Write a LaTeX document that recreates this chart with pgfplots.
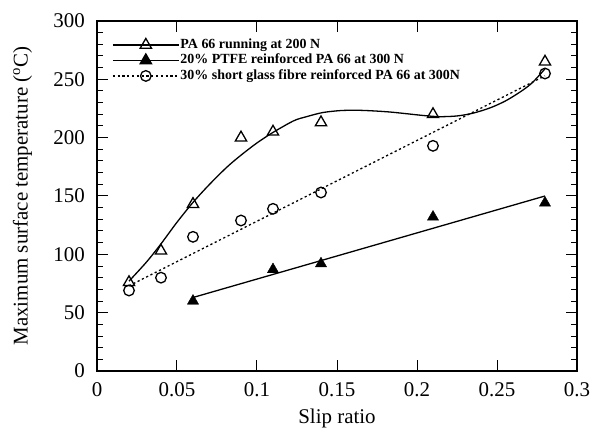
\documentclass[border=0pt]{standalone}
\usepackage{fontspec}
\setmainfont{Liberation Serif}
\usepackage{pgfplots}
\pgfplotsset{compat=1.18}
\begin{document}
\begin{tikzpicture}
\begin{axis}[
  scale only axis,
  width=480bp, height=350bp,
  xmin=0, xmax=0.3, ymin=0, ymax=300,
  xtick={0,0.05,0.1,0.15,0.2,0.25,0.3},
  xticklabels={0,0.05,0.1,0.15,0.2,0.25,0.3},
  ytick={0,50,100,150,200,250,300},
  minor y tick num=4,
  tick align=inside,
  major tick length=11bp,
  minor tick length=6bp,
  every tick/.style={black, line width=1bp},
  axis line style={line width=1.2bp},
  /pgf/number format/assume math mode=true,
  tick label style={font=\fontsize{21}{21}\selectfont},
  yticklabel style={inner sep=0pt, anchor=east, xshift=-12bp},
  xticklabel style={inner sep=0pt, anchor=north, yshift=-11bp},
  label style={font=\fontsize{21}{22}\selectfont},
  xlabel={Slip ratio},
  xlabel style={at={(axis description cs:0.5,0)}, anchor=north, inner sep=0pt, yshift=-38bp},
  ylabel={Maximum surface temperature ($^{\mathrm{o}}$C)},
  ylabel style={at={(axis description cs:-0.135,0.5)}, anchor=south, inner sep=0pt},
  legend style={draw=none, fill=none, at={(0.025,0.96)}, anchor=north west,
    font=\bfseries\fontsize{14}{14}\selectfont, row sep=0pt,
    nodes={inner sep=1bp, text height=10bp, text depth=3.5bp}},
  legend cell align=left,
  legend image code/.code={\draw[mark repeat=2,mark phase=2] plot coordinates {(0bp,0bp) (33bp,0bp) (66bp,0bp)};},
]
% PA 66 at 200 N - fitted curve
\addplot[black, line width=1.3bp, smooth, tension=0.5, forget plot] coordinates {
 (0.02,77) (0.031,93.5) (0.04,109) (0.05,127.5) (0.06,144.5) (0.07,159.5)
 (0.081,174.5) (0.09,185) (0.1,195.5) (0.11,204.5) (0.123,214.5) (0.131,218)
 (0.141,221.5) (0.152,223.2) (0.162,223.5) (0.172,223) (0.183,222) (0.193,220.6)
 (0.204,219) (0.214,218) (0.225,218.6) (0.235,221) (0.246,225.7) (0.256,232)
 (0.266,240.6) (0.2725,247.7) (0.28,259)};
\addplot[black, only marks, mark=triangle, mark size=6.5bp, mark options={line width=1.3bp, fill=white}, forget plot] coordinates {
 (0.02,76) (0.04,103) (0.06,143) (0.09,200) (0.11,205) (0.14,213) (0.21,220) (0.28,265)};
% 20% PTFE at 300 N
\addplot[black, line width=1.3bp, forget plot] coordinates {(0.06,63) (0.28,150)};
\addplot[black, only marks, mark=triangle*, mark size=6.5bp, forget plot] coordinates {
 (0.06,60) (0.11,87) (0.14,92) (0.21,132) (0.28,144)};
% 30% short glass fibre at 300 N
\addplot[black, line width=1.3bp, dash pattern=on 2.2bp off 2.6bp, forget plot] coordinates {(0.02,73) (0.28,253)};
\addplot[black, only marks, mark=o, mark size=5.3bp, mark options={line width=1.3bp, fill=white}, forget plot] coordinates {
 (0.02,69) (0.04,80) (0.06,115) (0.09,129) (0.11,139) (0.14,153) (0.21,193) (0.28,255)};
\addlegendimage{black, line width=1.3bp, mark=triangle, mark size=6.5bp, mark options={solid, fill=white}}
\addlegendentry{PA 66 running at 200 N}
\addlegendimage{black, line width=1.3bp, mark=triangle*, mark size=6.5bp, mark options={solid}}
\addlegendentry{20\% PTFE reinforced PA 66 at 300 N}
\addlegendimage{black, line width=1.3bp, dash pattern=on 2.2bp off 2.6bp, mark=o, mark size=5.3bp, mark options={solid, fill=white}}
\addlegendentry{30\% short glass fibre reinforced PA 66 at 300N}
\end{axis}
\path (current axis.south west) ++(-97bp,-69bp) coordinate (bbA);
\path (current axis.north east) ++(15bp,21bp) coordinate (bbB);
\path (bbA) rectangle (bbB);
\end{tikzpicture}
\end{document}
